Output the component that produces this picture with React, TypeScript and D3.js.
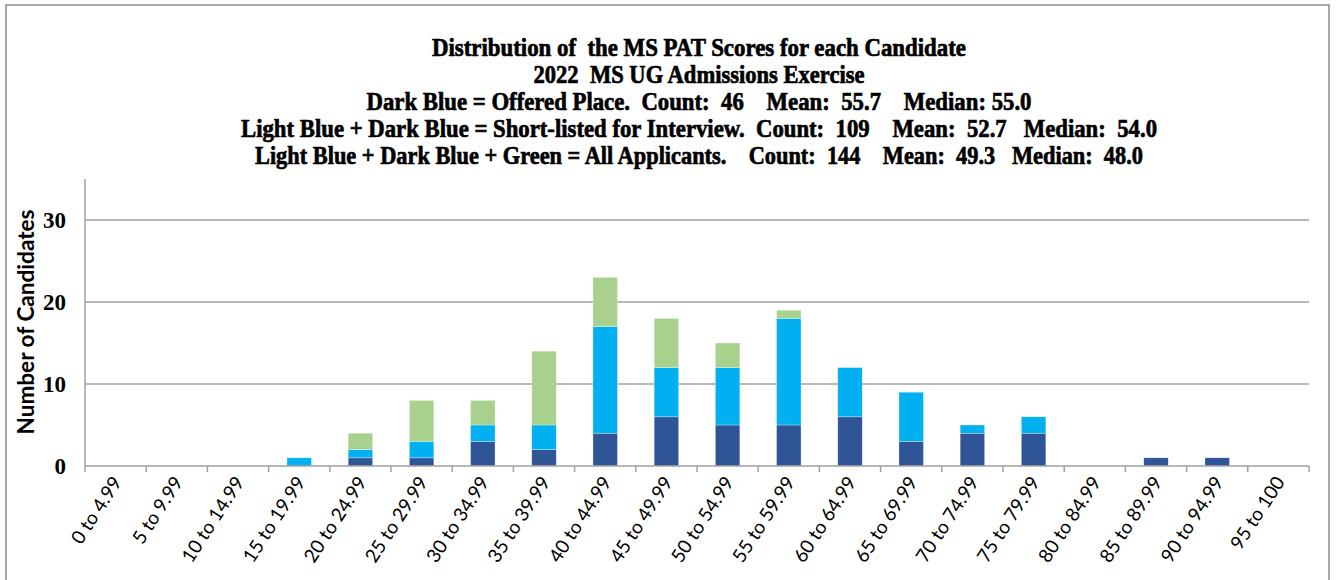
import React from "react";
import * as d3 from "d3";

const categories = ["0 to 4.99","5 to 9.99","10 to 14.99","15 to 19.99","20 to 24.99","25 to 29.99","30 to 34.99","35 to 39.99","40 to 44.99","45 to 49.99","50 to 54.99","55 to 59.99","60 to 64.99","65 to 69.99","70 to 74.99","75 to 79.99","80 to 84.99","85 to 89.99","90 to 94.99","95 to 100"];
const offered = [0,0,0,0,1,1,3,2,4,6,5,5,6,3,4,4,0,1,1,0];
const shortlisted = [0,0,0,1,1,2,2,3,13,6,7,13,6,6,1,2,0,0,0,0];
const others = [0,0,0,0,2,5,3,9,6,6,3,1,0,0,0,0,0,0,0,0];
const yTicks = [0,10,20,30];
const titleLines = [
  "Distribution of  the MS PAT Scores for each Candidate",
  "2022  MS UG Admissions Exercise",
  "Dark Blue = Offered Place.  Count:  46    Mean:  55.7    Median: 55.0",
  "Light Blue + Dark Blue = Short-listed for Interview.  Count:  109    Mean:  52.7   Median:  54.0",
  "Light Blue + Dark Blue + Green = All Applicants.    Count:  144    Mean:  49.3   Median:  48.0",
];
const titleWidths = [534, 331, 665, 916, 888];
const seriesKeys = ["offered", "shortlisted", "others"];
const colors = ["#2F5597", "#00B0F0", "#A9D18E"];

export default function App() {
  const W = 1337, H = 580;
  const left = 85, right = 1309, top = 179, bottom = 466;
  const x = d3.scaleBand().domain(categories).range([left, right]).paddingInner(0.6).paddingOuter(0.3);
  const y = d3.scaleLinear().domain([0, 35]).range([bottom, top]);
  const rows = categories.map((c, i) => ({ cat: c, offered: offered[i], shortlisted: shortlisted[i], others: others[i] }));
  const stacked = d3.stack<any>().keys(seriesKeys)(rows);
  const step = (right - left) / categories.length;
  const boundaries = d3.range(categories.length + 1).map(i => left + i * step);

  return (
    <svg width={W} height={H} style={{ position: "absolute", left: 0, top: 0 }}>
      <rect x={0} y={0} width={W} height={H} fill="#fff" />
      <rect x={6} y={5} width={1323} height={600} fill="#fff" stroke="#8c8c8c" strokeWidth={1.5} />
      {titleLines.map((t, i) => (
        <text key={i} x={699} y={56 + i * 27} textAnchor="middle" fontFamily="'Liberation Serif', serif" fontWeight="bold" fontSize={26}
          textLength={titleWidths[i]} lengthAdjust="spacingAndGlyphs" fill="#000" stroke="#000" strokeWidth={0.7}
          style={{ whiteSpace: "pre" }} xmlSpace="preserve">{t}</text>
      ))}
      {yTicks.filter(v => v > 0).map(v => (
        <line key={v} x1={left} x2={right} y1={y(v)} y2={y(v)} stroke="#a0a0a0" strokeWidth={1.5} />
      ))}
      {yTicks.map(v => (
        <text key={v} x={66} y={y(v)} dy="0.36em" textAnchor="end" fontFamily="'Liberation Serif', serif" fontWeight="bold" fontSize={23} fill="#000">{v}</text>
      ))}
      {stacked.map((s, si) => (
        <g key={si} fill={colors[si]}>
          {s.map((d, i) => d[1] - d[0] > 0 ? (
            <rect key={i} x={x(categories[i])} y={y(d[1])} width={x.bandwidth()} height={y(d[0]) - y(d[1])} stroke="#fff" strokeOpacity={0.5} strokeWidth={0.6} />
          ) : null)}
        </g>
      ))}
      <line x1={left} x2={left} y1={top} y2={bottom} stroke="#a0a0a0" strokeWidth={1.5} />
      <line x1={left} x2={right} y1={bottom} y2={bottom} stroke="#a0a0a0" strokeWidth={1.5} />
      {boundaries.map((b, i) => (
        <line key={i} x1={b} x2={b} y1={bottom} y2={bottom + 6} stroke="#a0a0a0" strokeWidth={1.5} />
      ))}
      {categories.map((c, i) => {
        const cx = left + (i + 0.5) * step + 7;
        const cy = 482;
        return (
          <text key={c} x={cx} y={cy} textAnchor="end" transform={`rotate(-57, ${cx}, ${cy})`} fontFamily="Lato, sans-serif" fontSize={19} fill="#000">{c}</text>
        );
      })}
      <text transform="translate(34, 322) rotate(-90)" textAnchor="middle" fontFamily="Lato, sans-serif" fontWeight="bold" fontSize={22} textLength={225} lengthAdjust="spacingAndGlyphs" fill="#000">Number of Candidates</text>
    </svg>
  );
}
